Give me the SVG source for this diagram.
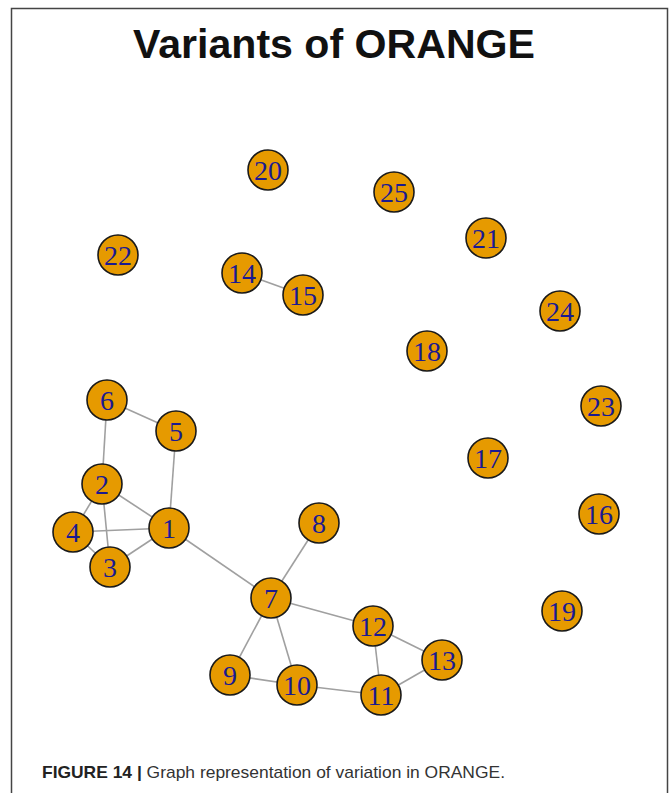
<svg xmlns="http://www.w3.org/2000/svg" width="670" height="793" viewBox="0 0 670 793">
<style>
.edge{stroke:#a0a0a0;stroke-width:1.6;fill:none}
.node circle{fill:#E69A00;stroke:#1a1a1a;stroke-width:1.6}
.node text{font-family:"Liberation Serif","Times New Roman",serif;font-size:28px;fill:#1a1a90;text-anchor:middle;dominant-baseline:central}
.title{font-family:"Liberation Sans",Arial,sans-serif;font-weight:bold;font-size:40px;fill:#111;text-anchor:middle}
.cap{font-family:"Liberation Sans",Arial,sans-serif;font-size:17px;fill:#333}
</style>
<rect x="0" y="0" width="670" height="793" fill="#fff"/>
<path d="M11.5,800 V8.5 H667.5 V800" fill="none" stroke="#444" stroke-width="1.5"/>
<text class="title" x="334" y="58" textLength="402" lengthAdjust="spacingAndGlyphs">Variants of ORANGE</text>
<g id="edges">
<line class="edge" x1="107" y1="400" x2="176" y2="431"/>
<line class="edge" x1="107" y1="400" x2="102" y2="484"/>
<line class="edge" x1="176" y1="431" x2="169" y2="528"/>
<line class="edge" x1="102" y1="484" x2="169" y2="528"/>
<line class="edge" x1="102" y1="484" x2="73" y2="532"/>
<line class="edge" x1="102" y1="484" x2="110" y2="567"/>
<line class="edge" x1="73" y1="532" x2="169" y2="528"/>
<line class="edge" x1="73" y1="532" x2="110" y2="567"/>
<line class="edge" x1="110" y1="567" x2="169" y2="528"/>
<line class="edge" x1="169" y1="528" x2="271" y2="598"/>
<line class="edge" x1="319" y1="523" x2="271" y2="598"/>
<line class="edge" x1="271" y1="598" x2="373" y2="626"/>
<line class="edge" x1="271" y1="598" x2="230" y2="675"/>
<line class="edge" x1="271" y1="598" x2="297" y2="685"/>
<line class="edge" x1="230" y1="675" x2="297" y2="685"/>
<line class="edge" x1="297" y1="685" x2="381" y2="695"/>
<line class="edge" x1="373" y1="626" x2="381" y2="695"/>
<line class="edge" x1="373" y1="626" x2="442" y2="660"/>
<line class="edge" x1="442" y1="660" x2="381" y2="695"/>
<line class="edge" x1="242" y1="273" x2="303" y2="295"/>
</g>
<g id="n20" class="node"><circle cx="268" cy="170" r="20"/><text x="268" y="170">20</text></g>
<g id="n25" class="node"><circle cx="394" cy="192" r="20"/><text x="394" y="192">25</text></g>
<g id="n21" class="node"><circle cx="486" cy="238" r="20"/><text x="486" y="238">21</text></g>
<g id="n22" class="node"><circle cx="118" cy="255" r="20"/><text x="118" y="255">22</text></g>
<g id="n14" class="node"><circle cx="242" cy="273" r="20"/><text x="242" y="273">14</text></g>
<g id="n15" class="node"><circle cx="303" cy="295" r="20"/><text x="303" y="295">15</text></g>
<g id="n24" class="node"><circle cx="560" cy="311" r="20"/><text x="560" y="311">24</text></g>
<g id="n18" class="node"><circle cx="427" cy="351" r="20"/><text x="427" y="351">18</text></g>
<g id="n6" class="node"><circle cx="107" cy="400" r="20"/><text x="107" y="400">6</text></g>
<g id="n23" class="node"><circle cx="601" cy="406" r="20"/><text x="601" y="406">23</text></g>
<g id="n5" class="node"><circle cx="176" cy="431" r="20"/><text x="176" y="431">5</text></g>
<g id="n17" class="node"><circle cx="488" cy="458" r="20"/><text x="488" y="458">17</text></g>
<g id="n2" class="node"><circle cx="102" cy="484" r="20"/><text x="102" y="484">2</text></g>
<g id="n16" class="node"><circle cx="599" cy="514" r="20"/><text x="599" y="514">16</text></g>
<g id="n8" class="node"><circle cx="319" cy="523" r="20"/><text x="319" y="523">8</text></g>
<g id="n1" class="node"><circle cx="169" cy="528" r="20"/><text x="169" y="528">1</text></g>
<g id="n4" class="node"><circle cx="73" cy="532" r="20"/><text x="73" y="532">4</text></g>
<g id="n3" class="node"><circle cx="110" cy="567" r="20"/><text x="110" y="567">3</text></g>
<g id="n7" class="node"><circle cx="271" cy="598" r="20"/><text x="271" y="598">7</text></g>
<g id="n19" class="node"><circle cx="562" cy="611" r="20"/><text x="562" y="611">19</text></g>
<g id="n12" class="node"><circle cx="373" cy="626" r="20"/><text x="373" y="626">12</text></g>
<g id="n13" class="node"><circle cx="442" cy="660" r="20"/><text x="442" y="660">13</text></g>
<g id="n9" class="node"><circle cx="230" cy="675" r="20"/><text x="230" y="675">9</text></g>
<g id="n10" class="node"><circle cx="297" cy="685" r="20"/><text x="297" y="685">10</text></g>
<g id="n11" class="node"><circle cx="381" cy="695" r="20"/><text x="381" y="695">11</text></g>
<text class="cap" x="42" y="778" textLength="463" lengthAdjust="spacingAndGlyphs"><tspan font-weight="bold" fill="#222">FIGURE 14 | </tspan>Graph representation of variation in ORANGE.</text>
</svg>
